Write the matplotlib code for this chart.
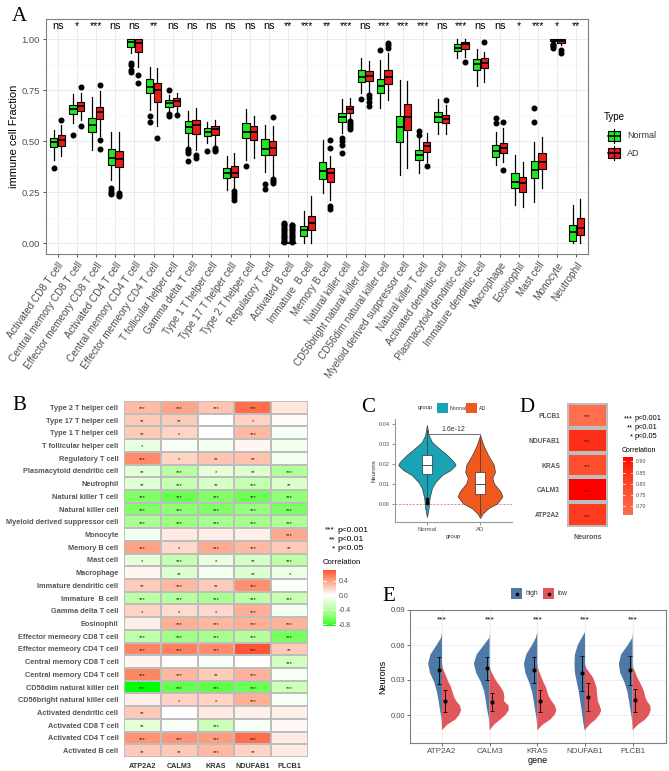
import numpy as np
import matplotlib
matplotlib.use("Agg")
import matplotlib.pyplot as plt
from matplotlib.colors import ListedColormap
from matplotlib.patches import Rectangle

plt.rcParams['font.family'] = ['Liberation Sans', 'DejaVu Sans']

# ---------------- Panel A data ----------------
cells = ['Activated CD8 T cell', 'Central memory CD8 T cell', 'Effector memeory CD8 T cell',
         'Activated CD4 T cell', 'Central memory CD4 T cell', 'Effector memeory CD4 T cell',
         'T follicular helper cell', 'Gamma delta T cell', 'Type 1 T helper cell',
         'Type 17 T helper cell', 'Type 2 T helper cell', 'Regulatory T cell', 'Activated B cell',
         'Immature  B cell', 'Memory B cell', 'Natural killer cell', 'CD56bright natural killer cell',
         'CD56dim natural killer cell', 'Myeloid derived suppressor cell', 'Natural killer T cell',
         'Activated dendritic cell', 'Plasmacytoid dendritic cell', 'Immature dendritic cell',
         'Macrophage', 'Eosinophil', 'Mast cell', 'Monocyte', 'Neutrophil']
sig_a = ['ns', '*', '***', 'ns', 'ns', '**', 'ns', 'ns', 'ns', 'ns', 'ns', 'ns', '**', '***',
         '**', '***', 'ns', '***', '***', '***', 'ns', '***', 'ns', 'ns', '*', '***', '*', '**']

# (whisker low, q1, median, q3, whisker high)
normal_box = [(0.41, 0.47, 0.495, 0.515, 0.555), (0.59, 0.634, 0.657, 0.678, 0.73),
              (0.458, 0.547, 0.58, 0.613, 0.716), (0.31, 0.384, 0.417, 0.46, 0.547),
              (0.935, 0.964, 0.985, 1.0, 1.0), (0.654, 0.739, 0.768, 0.804, 0.863),
              (0.645, 0.67, 0.686, 0.703, 0.727), (0.474, 0.542, 0.572, 0.601, 0.649),
              (0.493, 0.523, 0.544, 0.564, 0.596), (0.261, 0.319, 0.343, 0.368, 0.425),
              (0.408, 0.515, 0.547, 0.588, 0.657), (0.351, 0.43, 0.462, 0.51, 0.58),
              (0.0, 0.0, 0.0, 0.0, 0.0), (0.0, 0.033, 0.062, 0.082, 0.155),
              (0.248, 0.315, 0.356, 0.397, 0.507), (0.539, 0.592, 0.618, 0.64, 0.706),
              (0.735, 0.793, 0.817, 0.85, 0.907), (0.665, 0.739, 0.771, 0.804, 0.899),
              (0.335, 0.495, 0.572, 0.624, 0.80), (0.343, 0.408, 0.433, 0.458, 0.515),
              (0.536, 0.593, 0.621, 0.642, 0.706), (0.907, 0.944, 0.96, 0.977, 1.0),
              (0.771, 0.849, 0.877, 0.903, 0.951), (0.383, 0.424, 0.453, 0.481, 0.547),
              (0.187, 0.268, 0.301, 0.342, 0.432), (0.20, 0.318, 0.358, 0.404, 0.497),
              (0.985, 0.99, 0.995, 1.0, 1.0), (0.0, 0.011, 0.056, 0.088, 0.187)]
normal_out = [[0.37], [0.53], [], [0.27, 0.255, 0.245, 0.24], [0.885, 0.875, 0.848, 0.84],
              [0.624, 0.596], [0.752, 0.632, 0.626], [0.46, 0.45, 0.44, 0.405], [0.45], [],
              [0.379], [0.29, 0.265],
              [0.004, 0.012, 0.02, 0.028, 0.036, 0.045, 0.053, 0.062, 0.07, 0.078, 0.087, 0.095, 0.1],
              [], [], [0.518, 0.5, 0.48, 0.44], [0.706], [0.948], [], [0.548, 0.53], [], [], [],
              [0.612, 0.588], [], [0.661, 0.596], [0.978, 0.972, 0.965, 0.96], []]
ad_box = [(0.425, 0.477, 0.507, 0.528, 0.58), (0.605, 0.65, 0.673, 0.69, 0.735),
          (0.526, 0.608, 0.645, 0.67, 0.747), (0.26, 0.372, 0.413, 0.454, 0.547),
          (0.866, 0.94, 0.984, 1.0, 1.0), (0.575, 0.691, 0.752, 0.788, 0.858),
          (0.645, 0.673, 0.698, 0.71, 0.739), (0.458, 0.536, 0.58, 0.605, 0.662),
          (0.482, 0.528, 0.56, 0.575, 0.605), (0.261, 0.324, 0.346, 0.376, 0.441),
          (0.417, 0.507, 0.547, 0.577, 0.624), (0.327, 0.43, 0.465, 0.50, 0.575),
          (0.0, 0.0, 0.0, 0.0, 0.0), (0.0, 0.062, 0.098, 0.134, 0.229),
          (0.212, 0.302, 0.343, 0.368, 0.425), (0.613, 0.637, 0.658, 0.673, 0.71),
          (0.743, 0.797, 0.822, 0.845, 0.895), (0.703, 0.781, 0.817, 0.85, 0.931),
          (0.368, 0.556, 0.618, 0.681, 0.797), (0.40, 0.449, 0.474, 0.498, 0.539),
          (0.536, 0.588, 0.608, 0.629, 0.678), (0.915, 0.953, 0.977, 0.989, 1.0),
          (0.792, 0.858, 0.882, 0.907, 0.94), (0.40, 0.44, 0.465, 0.493, 0.563),
          (0.175, 0.249, 0.293, 0.322, 0.40), (0.272, 0.362, 0.40, 0.44, 0.519),
          (0.97, 0.98, 0.99, 1.0, 1.0), (0.0, 0.039, 0.075, 0.121, 0.216)]
ad_out = [[0.605], [0.765, 0.575], [0.778, 0.507, 0.461], [0.248, 0.235, 0.229],
          [0.823, 0.785], [0.515], [0.63], [0.433, 0.417], [0.466, 0.458, 0.45],
          [0.253, 0.24, 0.225, 0.212], [], [0.617, 0.315, 0.305, 0.293],
          [0.004, 0.012, 0.02, 0.028, 0.036, 0.045, 0.053, 0.062, 0.07, 0.078, 0.087, 0.09],
          [], [0.506, 0.465, 0.18, 0.168], [0.60, 0.59, 0.58, 0.57, 0.56],
          [0.727, 0.71, 0.69, 0.675], [0.98, 0.97, 0.96], [], [0.376], [0.70], [0.887],
          [0.985], [0.596, 0.358], [], [], [0.95, 0.935], []]

# ---------------- Panel B data ----------------
hm_rows = ['Type 2 T helper cell', 'Type 17 T helper cell', 'Type 1 T helper cell',
           'T follicular helper cell', 'Regulatory T cell', 'Plasmacytoid dendritic cell',
           'Neutrophil', 'Natural killer T cell', 'Natural killer cell',
           'Myeloid derived suppressor cell', 'Monocyte', 'Memory B cell', 'Mast cell',
           'Macrophage', 'Immature dendritic cell', 'Immature  B cell', 'Gamma delta T cell',
           'Eosinophil', 'Effector memeory CD8 T cell', 'Effector memeory CD4 T cell',
           'Central memory CD8 T cell', 'Central memory CD4 T cell', 'CD56dim natural killer cell',
           'CD56bright natural killer cell', 'Activated dendritic cell', 'Activated CD8 T cell',
           'Activated CD4 T cell', 'Activated B cell']
genes = ['ATP2A2', 'CALM3', 'KRAS', 'NDUFAB1', 'PLCB1']
cor_atp2a2 = [0.30, 0.23, 0.23, -0.13, 0.50, -0.17, -0.18, -0.62, -0.62, -0.45, -0.07, 0.41, -0.15, 0.04,
              0.23, -0.37, 0.20, 0.08, -0.36, 0.52, 0.04, 0.52, -0.85, 0.08, 0.24, -0.16, 0.47, 0.24]
cor_calm3 = [0.40, 0.23, 0.19, -0.04, 0.19, -0.40, -0.32, -0.70, -0.58, -0.52, 0.09, 0.17, -0.34, -0.21,
             0.31, -0.41, 0.16, 0.35, -0.50, 0.55, 0.0, 0.32, -0.71, 0.20, 0.0, -0.04, 0.46, 0.24]
cor_kras = [0.26, 0.0, 0.0, -0.07, 0.26, -0.15, -0.24, -0.62, -0.63, -0.47, 0.08, 0.37, -0.13, -0.06,
            0.23, -0.45, 0.17, 0.32, -0.47, 0.50, -0.04, 0.23, -0.73, 0.20, 0.10, -0.30, 0.43, 0.31]
cor_ndufab1 = [0.61, 0.20, 0.31, 0.04, 0.27, -0.20, -0.34, -0.69, -0.54, -0.48, 0.07, 0.31, -0.24, -0.21,
               0.48, -0.38, 0.35, 0.35, -0.42, 0.70, 0.0, 0.34, -0.69, 0.35, 0.07, -0.04, 0.61, 0.20]
cor_plcb1 = [0.11, 0.02, -0.04, -0.07, -0.06, -0.43, -0.22, -0.56, -0.65, -0.44, 0.37, 0.24, -0.37, -0.12,
             -0.03, -0.32, -0.06, 0.34, -0.66, 0.23, -0.27, -0.05, -0.29, -0.05, 0.07, 0.03, 0.09, 0.09]
st_atp2a2 = ['***', '**', '**', '*', '***', '**', '**', '***', '***', '***', '', '***', '*', '',
             '**', '***', '*', '', '***', '***', '', '***', '***', '', '**', '**', '***', '**']
st_calm3 = ['***', '**', '*', '', '*', '***', '***', '***', '***', '***', '', '*', '***', '**',
            '***', '***', '*', '***', '***', '***', '', '***', '***', '*', '', '', '***', '**']
st_kras = ['***', '', '', '', '**', '*', '**', '***', '***', '***', '', '***', '*', '',
           '**', '***', '*', '***', '***', '***', '', '**', '***', '*', '', '***', '***', '***']
st_ndufab1 = ['***', '*', '***', '', '**', '**', '***', '***', '***', '***', '', '***', '**', '**',
              '***', '***', '***', '***', '***', '***', '', '***', '***', '***', '', '', '***', '**']
st_plcb1 = ['', '', '', '', '', '***', '**', '***', '***', '***', '***', '**', '***', '*',
            '', '***', '', '***', '***', '**', '***', '', '***', '', '', '', '', '']

# ---------------- Panel C data ----------------
c_groups = ['Normal', 'AD']
# violin outline: y and half width
normal_vy = [-0.0065, -0.002, 0.003, 0.008, 0.011, 0.0145, 0.017, 0.0195, 0.021, 0.0245, 0.028, 0.031, 0.0345, 0.0395]
normal_vw = [0, 0.032, 0.05, 0.095, 0.16, 0.285, 0.445, 0.54, 0.51, 0.38, 0.22, 0.095, 0.032, 0]
ad_vy = [-0.007, -0.0047, -0.002, 0.0003, 0.0037, 0.006, 0.0103, 0.013, 0.016, 0.0195, 0.0245, 0.0295, 0.0345]
ad_vw = [0, 0.05, 0.16, 0.32, 0.42, 0.39, 0.26, 0.23, 0.28, 0.26, 0.15, 0.06, 0]
c_box = [(0.0035, 0.0148, 0.0195, 0.0245, 0.037), (-0.0055, 0.005, 0.010, 0.0158, 0.032)]
c_out = [[0.0023, 0.0012, 0.0004], []]
c_pval = '1.6e-12'

# ---------------- Panel D data ----------------
d_genes = ['PLCB1', 'NDUFAB1', 'KRAS', 'CALM3', 'ATP2A2']
d_cor = [0.66, 0.86, 0.78, 0.92, 0.83]

# ---------------- Panel E data ----------------
e_genes = ['ATP2A2', 'CALM3', 'KRAS', 'NDUFAB1', 'PLCB1']
high_y = [-0.014, -0.008, -0.002, 0.004, 0.012, 0.020, 0.028, 0.036, 0.044, 0.052, 0.060, 0.066, 0.071]
high_w = [[0, 0.0, 0.012, 0.04, 0.07, 0.105, 0.16, 0.25, 0.29, 0.24, 0.11, 0.02, 0],
          [0, 0.005, 0.02, 0.05, 0.08, 0.11, 0.18, 0.28, 0.33, 0.27, 0.12, 0.01, 0],
          [0, 0.005, 0.02, 0.045, 0.075, 0.11, 0.17, 0.25, 0.28, 0.23, 0.11, 0.03, 0],
          [0, 0.03, 0.05, 0.07, 0.10, 0.13, 0.17, 0.21, 0.22, 0.21, 0.15, 0.07, 0],
          [0, 0.005, 0.02, 0.045, 0.075, 0.11, 0.17, 0.26, 0.29, 0.24, 0.10, 0.01, 0]]
low_y = [-0.013, -0.008, -0.004, 0.0, 0.004, 0.008, 0.012, 0.016, 0.020, 0.024, 0.028, 0.032, 0.036, 0.040, 0.044]
low_w = [[0, 0.12, 0.28, 0.36, 0.40, 0.38, 0.30, 0.25, 0.22, 0.19, 0.14, 0.10, 0.06, 0.02, 0],
         [0, 0.10, 0.22, 0.33, 0.40, 0.40, 0.30, 0.31, 0.29, 0.23, 0.16, 0.10, 0.05, 0.01, 0],
         [0, 0.12, 0.27, 0.36, 0.40, 0.37, 0.30, 0.24, 0.21, 0.18, 0.13, 0.09, 0.05, 0.02, 0],
         [0, 0.10, 0.22, 0.30, 0.34, 0.31, 0.27, 0.26, 0.25, 0.24, 0.21, 0.17, 0.10, 0.03, 0],
         [0, 0.12, 0.26, 0.34, 0.38, 0.37, 0.30, 0.26, 0.24, 0.20, 0.15, 0.10, 0.06, 0.02, 0]]
high_mean = [0.0386, 0.040, 0.039, 0.0357, 0.0383]
high_lo = [0.027, 0.0297, 0.0277, 0.021, 0.026]
high_hi = [0.050, 0.050, 0.050, 0.051, 0.051]
low_mean = [0.0123, 0.0114, 0.0123, 0.0157, 0.0129]
low_lo = [0.0029, 0.0037, 0.0029, 0.0031, 0.0029]
low_hi = [0.0214, 0.019, 0.0217, 0.0277, 0.0223]
e_sig = ['***', '***', '***', '***', '***']

# ---------------- helpers ----------------
W, H = 669, 771
fig = plt.figure(figsize=(W / 100, H / 100), dpi=100)
fig.patch.set_facecolor('white')


def px_axes(x0, y0, x1, y1, **kw):
    return fig.add_axes([x0 / W, 1 - y1 / H, (x1 - x0) / W, (y1 - y0) / H], **kw)


# ggplot-like gradient2 (green - white - red) interpolated in CIE Lab
_M = np.array([[0.4124, 0.3576, 0.1805], [0.2126, 0.7152, 0.0722], [0.0193, 0.1192, 0.9505]])
_WH = _M @ np.ones(3)


def rgb2lab(rgb):
    c = np.asarray(rgb, float)
    lin = np.where(c <= 0.04045, c / 12.92, ((c + 0.055) / 1.055) ** 2.4)
    xyz = _M @ lin / _WH
    f = np.where(xyz > 0.008856, np.cbrt(xyz), 7.787 * xyz + 16 / 116)
    return np.array([116 * f[1] - 16, 500 * (f[0] - f[1]), 200 * (f[1] - f[2])])


def lab2rgb(lab):
    fy = (lab[0] + 16) / 116
    f = np.array([fy + lab[1] / 500, fy, fy - lab[2] / 200])
    xyz = np.where(f ** 3 > 0.008856, f ** 3, (f - 16 / 116) / 7.787) * _WH
    lin = np.clip(np.linalg.solve(_M, xyz), 0, 1)
    return np.where(lin <= 0.0031308, 12.92 * lin, 1.055 * lin ** (1 / 2.4) - 0.055)


lab_w, lab_g, lab_r = rgb2lab([1, 1, 1]), rgb2lab([0, 1, 0]), rgb2lab([1, 0, 0])
cols = []
for t in np.linspace(-1, 1, 257):
    end = lab_g if t < 0 else lab_r
    cols.append(np.clip(lab2rgb(lab_w + abs(t) * (end - lab_w)), 0, 1))
cmap = ListedColormap(cols)

GRAY30 = '#4D4D4D'

# ================= Panel A =================
axA = px_axes(46, 19, 588, 254)
c_norm, c_ad = '#22E622', '#E81A1A'
pos = np.arange(1, len(cells) + 1)


def make_stats(boxes, outs):
    return [dict(whislo=b[0], q1=b[1], med=b[2], q3=b[3], whishi=b[4], fliers=o)
            for b, o in zip(boxes, outs)]


for boxes, outs, col, off in [(normal_box, normal_out, c_norm, -0.2), (ad_box, ad_out, c_ad, 0.2)]:
    axA.bxp(make_stats(boxes, outs), positions=pos + off, widths=0.38, patch_artist=True,
            showcaps=False, manage_ticks=False,
            boxprops=dict(facecolor=col, edgecolor='black', linewidth=0.8),
            medianprops=dict(color='black', linewidth=1.3),
            whiskerprops=dict(color='black', linewidth=0.9),
            flierprops=dict(marker='o', markerfacecolor='black', markeredgecolor='black',
                            markersize=3.3), zorder=3)

for x, s in zip(pos, sig_a):
    axA.text(x, 1.052, s, ha='center', va='baseline', fontsize=7.8, color='black')

axA.set_xlim(0.4, len(cells) + 0.6)
axA.set_ylim(-0.054, 1.10)
axA.set_yticks([0, 0.25, 0.5, 0.75, 1.0])
axA.set_yticklabels(['0.00', '0.25', '0.50', '0.75', '1.00'], fontsize=6.8, color=GRAY30)
axA.set_yticks([0.125, 0.375, 0.625, 0.875], minor=True)
axA.set_xticks(pos)
axA.set_xticklabels(cells, rotation=55, ha='right', va='top', rotation_mode='anchor',
                    fontsize=7.2, color=GRAY30)
axA.set_ylabel('immune cell Fraction', fontsize=8, labelpad=1.5)
axA.grid(which='major', color='#EBEBEB', lw=0.7)
axA.grid(which='minor', axis='y', color='#F4F4F4', lw=0.4)
axA.set_axisbelow(True)
axA.tick_params(which='major', length=2.5, width=0.6, color='#333333', pad=2)
axA.tick_params(which='minor', length=0)
for sp in axA.spines.values():
    sp.set_color('#7F7F7F')
    sp.set_linewidth(0.8)

# ================= Panel B =================
axB = px_axes(124, 401, 308, 757)
mat = np.column_stack([cor_atp2a2, cor_calm3, cor_kras, cor_ndufab1, cor_plcb1])
stars = np.column_stack([st_atp2a2, st_calm3, st_kras, st_ndufab1, st_plcb1])
mB = np.abs(mat).max()
axB.pcolormesh(mat, cmap=cmap, vmin=-mB, vmax=mB, edgecolors='#BDBDBD', linewidth=1.3)
for i in range(mat.shape[0]):
    for j in range(mat.shape[1]):
        if stars[i, j]:
            axB.text(j + 0.5, i + 0.62, stars[i, j], ha='center', va='center', fontsize=4.2,
                     color='#222222')
axB.set_xlim(0, mat.shape[1])
axB.set_ylim(mat.shape[0], 0)
axB.set_yticks(np.arange(len(hm_rows)) + 0.5)
axB.set_yticklabels(hm_rows, fontsize=5.3, fontweight='bold', color='#555555')
axB.set_xticks(np.arange(len(genes)) + 0.5)
axB.set_xticklabels(genes, fontsize=5.2, fontweight='bold', color='#333333')
axB.tick_params(length=0, pad=4)
for sp in axB.spines.values():
    sp.set_visible(False)

# colourbar B
cbB = px_axes(323, 570, 336, 626)
lo, hi = mat.min(), mat.max()
cbB.imshow(np.linspace(hi, lo, 200)[:, None], cmap=cmap, vmin=-mB, vmax=mB, aspect='auto',
           extent=[0, 1, lo, hi])
cbB.set_xlim(0, 1)
cbB.set_ylim(lo, hi)
cbB.set_xticks([])
cbB.yaxis.tick_right()
cbB.set_yticks([0.4, 0.0, -0.4, -0.8])
cbB.set_yticklabels(['0.4', '0.0', '-0.4', '-0.8'], fontsize=5, color=GRAY30)
cbB.tick_params(length=0, pad=2)
for t in [0.4, 0.0, -0.4, -0.8]:
    cbB.plot([0, 0.2], [t, t], color='white', lw=0.6)
    cbB.plot([0.8, 1], [t, t], color='white', lw=0.6)
for sp in cbB.spines.values():
    sp.set_visible(False)

# ================= Panel C =================
axC = px_axes(395, 419, 512, 522)
c_cols = ['#1AA3B5', '#F0591E']
profiles = [(normal_vy, normal_vw), (ad_vy, ad_vw)]
for k, ((vy, vw), col) in enumerate(zip(profiles, c_cols)):
    x = k + 1
    vy, vw = np.array(vy), np.array(vw)
    axC.fill_betweenx(vy, x - vw, x + vw, facecolor=col, edgecolor='#3A3A3A', lw=0.5, zorder=2)
    b = c_box[k]
    axC.plot([x, x], [b[0], b[1]], color='#333333', lw=0.5, zorder=3)
    axC.plot([x, x], [b[3], b[4]], color='#333333', lw=0.5, zorder=3)
    axC.add_patch(Rectangle((x - 0.09, b[1]), 0.18, b[3] - b[1], facecolor='white',
                            edgecolor='#333333', lw=0.5, zorder=4))
    axC.plot([x - 0.09, x + 0.09], [b[2], b[2]], color='#333333', lw=0.6, zorder=5)
    if c_out[k]:
        axC.plot([x] * len(c_out[k]), c_out[k], 'o', color='black', ms=1.6, zorder=5)
axC.axhline(0, color='#E06060', ls='--', lw=0.5, dashes=(3, 2), zorder=1)
axC.plot([1, 1, 2, 2], [0.0338, 0.0348, 0.0348, 0.0325], color='#555555', lw=0.6, zorder=6)
axC.text(1.5, 0.0353, c_pval, ha='center', va='bottom', fontsize=5, color='#333333')
axC.set_xlim(0.4, 2.6)
axC.set_ylim(-0.009, 0.0425)
axC.set_xticks([1, 2])
axC.set_xticklabels(c_groups, fontsize=4.3, color=GRAY30)
axC.set_yticks([0, 0.01, 0.02, 0.03, 0.04])
axC.set_yticklabels(['0.00', '0.01', '0.02', '0.03', '0.04'], fontsize=4.1, color=GRAY30)
axC.set_xlabel('group', fontsize=4.3, labelpad=1.5, color='#333333')
axC.set_ylabel('Neurons', fontsize=4.3, labelpad=1.5, color='#333333')
axC.tick_params(length=2, width=0.5, color='#666666', pad=1.5)
for s in ['top', 'right']:
    axC.spines[s].set_visible(False)
for s in ['left', 'bottom']:
    axC.spines[s].set_color('#999999')
    axC.spines[s].set_linewidth(0.8)

# ================= Panel D =================
axD = px_axes(567, 403, 608, 527)
dmat = np.array(d_cor)[:, None]
mD = np.abs(dmat).max()
axD.pcolormesh(dmat, cmap=cmap, vmin=-mD, vmax=mD, edgecolors='#BDBDBD', linewidth=1.5)
for i in range(len(d_genes)):
    axD.text(0.5, i + 0.56, '***', ha='center', va='center', fontsize=4.2, color='#222222')
axD.set_xlim(0, 1)
axD.set_ylim(len(d_genes), 0)
axD.set_yticks(np.arange(len(d_genes)) + 0.5)
axD.set_yticklabels(d_genes, fontsize=4.8, fontweight='bold', color='#555555')
axD.set_xticks([0.5])
axD.set_xticklabels(['Neurons'], fontsize=5, fontweight='bold', color='#555555')
axD.tick_params(length=0, pad=5)
for sp in axD.spines.values():
    sp.set_visible(False)

cbD = px_axes(623, 457, 633, 515)
dlo, dhi = min(d_cor), max(d_cor)
cbD.imshow(np.linspace(dhi, dlo, 200)[:, None], cmap=cmap, vmin=-mD, vmax=mD, aspect='auto',
           extent=[0, 1, dlo, dhi])
cbD.set_xlim(0, 1)
cbD.set_ylim(dlo, dhi)
cbD.set_xticks([])
cbD.yaxis.tick_right()
dt = [0.90, 0.85, 0.80, 0.75, 0.70]
cbD.set_yticks(dt)
cbD.set_yticklabels(['%.2f' % v for v in dt], fontsize=3.8, color=GRAY30)
cbD.tick_params(length=0, pad=2)
for t in dt:
    cbD.plot([0, 0.2], [t, t], color='white', lw=0.5)
    cbD.plot([0.8, 1], [t, t], color='white', lw=0.5)
for sp in cbD.spines.values():
    sp.set_visible(False)

# ================= Panel E =================
axE = px_axes(410, 610, 666, 743)
c_high, c_low = '#4E79A7', '#E15759'
for k in range(len(e_genes)):
    x = k + 1
    axE.fill_betweenx(high_y, x - np.array(high_w[k]), x, facecolor=c_high, lw=0, zorder=2)
    axE.fill_betweenx(low_y, x, x + np.array(low_w[k]), facecolor=c_low, lw=0, zorder=2)
    axE.text(x, 0.0815, e_sig[k], ha='center', va='center', fontsize=6, color='black')
xs = np.arange(1, len(e_genes) + 1)
axE.errorbar(xs - 0.06, high_mean,
             yerr=[np.array(high_mean) - np.array(high_lo), np.array(high_hi) - np.array(high_mean)],
             fmt='o', color='black', ms=2, lw=0.6, capsize=1.3, capthick=0.6, zorder=4)
axE.errorbar(xs + 0.06, low_mean,
             yerr=[np.array(low_mean) - np.array(low_lo), np.array(low_hi) - np.array(low_mean)],
             fmt='o', color='black', ms=2, lw=0.6, capsize=1.3, capthick=0.6, zorder=4)
axE.set_xlim(0.33, 5.7)
axE.set_ylim(-0.024, 0.09)
axE.set_xticks(xs)
axE.set_xticklabels(e_genes, fontsize=5.8, color=GRAY30)
axE.set_yticks([0, 0.03, 0.06, 0.09])
axE.set_yticklabels(['0.00', '0.03', '0.06', '0.09'], fontsize=5.5, color=GRAY30)
axE.set_yticks([-0.015, 0.015, 0.045, 0.075], minor=True)
axE.set_xlabel('gene', fontsize=6.5, labelpad=1)
axE.set_ylabel('Neurons', fontsize=6.5, labelpad=2)
axE.grid(which='major', color='#EBEBEB', lw=0.6)
axE.grid(which='minor', axis='y', color='#F4F4F4', lw=0.4)
axE.set_axisbelow(True)
axE.tick_params(which='major', length=2, width=0.5, color='#333333', pad=1.5)
axE.tick_params(which='minor', length=0)
for sp in axE.spines.values():
    sp.set_color('#7F7F7F')
    sp.set_linewidth(0.8)

# ================= legends, letters (pixel overlay) =================
ov = fig.add_axes([0, 0, 1, 1], zorder=10)
ov.set_xlim(0, W)
ov.set_ylim(H, 0)
ov.axis('off')
ov.patch.set_alpha(0)

# A legend
ov.text(604, 117, 'Type', fontsize=7, va='center')
for k, (lab, col) in enumerate([('Normal', c_norm), ('AD', c_ad)]):
    yc = 136 + 17 * k
    ov.plot([614, 614], [yc - 7, yc + 7], color='black', lw=0.8)
    ov.add_patch(Rectangle((608, yc - 5), 12, 10, facecolor=col, edgecolor='black', lw=0.8))
    ov.plot([608, 620], [yc, yc], color='black', lw=1.1)
    ov.text(627, yc, lab, fontsize=6.5, va='center', color='#333333')

# B legend
for k, (s, p) in enumerate([('***', 'p<0.001'), ('**', 'p<0.01'), ('*', 'p<0.05')]):
    yc = 530 + 9.5 * k
    ov.text(335, yc, s, fontsize=6, ha='right', va='center')
    ov.text(337, yc, p, fontsize=6, ha='left', va='center')
ov.text(323, 563, 'Correlation', fontsize=5.6, va='center')

# C legend
ov.text(418, 408, 'group', fontsize=4.3, va='center', color='#333333')
ov.add_patch(Rectangle((437, 403), 11, 10, facecolor=c_cols[0], edgecolor='none'))
ov.text(449.5, 408, 'Normal', fontsize=3.8, va='center', color='#333333')
ov.add_patch(Rectangle((466, 403), 11, 10, facecolor=c_cols[1], edgecolor='none'))
ov.text(478.5, 408, 'AD', fontsize=3.8, va='center', color='#333333')

# D legend
for k, (s, p) in enumerate([('***', 'p<0.001'), ('**', 'p<0.01'), ('*', 'p<0.05')]):
    yc = 419 + 8.7 * k
    ov.text(633, yc, s, fontsize=5.3, ha='right', va='center')
    ov.text(635, yc, p, fontsize=5.3, ha='left', va='center')
ov.text(622, 450, 'Correlation', fontsize=5, va='center')

# E legend
for k, (lab, col, x0) in enumerate([('high', c_high, 511), ('low', c_low, 543)]):
    ov.add_patch(Rectangle((x0, 588), 11, 11, facecolor=col, edgecolor='none'))
    ov.plot([x0 + 5.5], [593.5], 'o', color='black', ms=1.6)
    ov.text(x0 + 15, 593.5, lab, fontsize=4.8, va='center', color='#333333')

# panel letters
for lab, x, y in [('A', 12, 21), ('B', 12, 410), ('C', 361, 412), ('D', 519, 412), ('E', 382, 601)]:
    ov.text(x, y, lab, fontsize=15, family=['Liberation Serif', 'DejaVu Serif'],
            va='baseline', ha='left')

fig.savefig('out.png', dpi=100, facecolor='white')
